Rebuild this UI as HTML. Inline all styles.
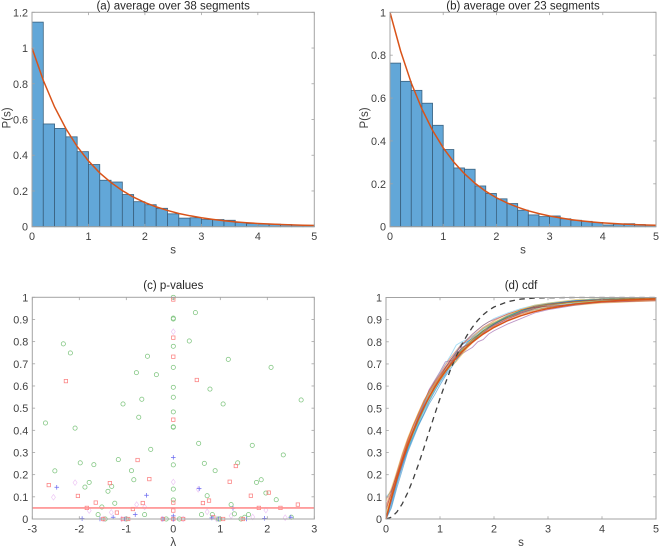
<!DOCTYPE html>
<html lang="en">
<head>
<meta charset="utf-8">
<title>Spacing distributions</title>
<style>
html,body{margin:0;padding:0;background:#fff;width:660px;height:547px;overflow:hidden}
svg{display:block}
text{font-family:"Liberation Sans",Arial,sans-serif;fill:#404040;font-size:10.8px}
text.lab{font-size:11.5px}
</style>
</head>
<body>
<svg id="fig" xmlns="http://www.w3.org/2000/svg" width="660" height="547" viewBox="0 0 660 547"></svg>
<script>
// ---------- data ----------
const histEdgeStep = 0.2;
const histA = [1.145,.575,.55,.503,.42,.348,.26,.25,.18,.14,.123,.103,.072,.048,.05,.04,.04,.036,.024,.018,.016,.014,.012,.01,.008];
const histB = [.763,.678,.636,.576,.473,.36,.274,.268,.19,.155,.13,.108,.077,.055,.047,.05,.037,.03,.025,.02,.008,.012,.014,.01,.008];
const theoryS = [0,.2,.4,.6,.8,1,1.2,1.4,1.6,1.8,2,2.2,2.4,2.6,2.8,3,3.2,3.4,3.6,3.8,4,4.2,4.4,4.6,4.8,5];
const theoryP = [1,.819,.67,.549,.449,.368,.301,.247,.202,.165,.135,.111,.091,.074,.061,.05,.041,.033,.027,.022,.018,.015,.012,.01,.008,.007];

const greenLambda = [-2.34,-2.19,-.55,-.785,-.36,-1.07,-.67,0,.47,0,0,.34,0,1.17,0,2.08,0,.78,0,2.72,1.06,-2.72,-2.09,-.735,-.48,-2.52,-1.98,-1.69,-1.17,-.89,-.84,-1.79,-1.88,-1.31,-1.39,-1.245,-1.52,-1.6,-1.45,-.61,-.15,-1,0,0,0,.54,1.68,2.34,.66,1.37,.89,0,1.87,1.77,0,.72,0,1.97,2.19,1.23,1.3,1.6,.6,.83,1.52,1.44,.13,.96,.99,2.51];
const greenP = [.79,.749,.734,.66,.651,.519,.54,1,.931,.902,.906,.803,.779,.72,.684,.684,.594,.586,.549,.537,.519,.433,.41,.459,.314,.217,.253,.245,.268,.218,.177,.165,.144,.147,.125,.071,.054,.02,0,.02,0,0,.483,.414,.416,.341,.332,.289,.251,.253,.218,.244,.177,.165,.135,.105,.086,.117,.087,.065,.023,.02,.02,.02,.008,0,0,0,0,.008];
const redLambda = [-2.285,0,0,0,.5,-2.65,-2.03,-1.35,-.76,-.51,-1.65,-1.84,-1.2,-.86,-.65,-1.49,-.96,-1.07,-.22,0,1.33,1.2,1.65,2.03,.76,.63,0,0,2.65,1.82,2.28,.85,1.06,1.48,0,.21];
const redP = [.622,.99,.818,.732,.627,.153,.104,.162,.266,.18,.074,.05,.029,.045,.072,0,0,0,0,.448,.239,.168,.105,.119,.083,.072,.074,.038,.065,.05,.05,.008,0,0,0,0];
const blueLambda = [-2.48,-1.94,-1.56,-1.28,-.81,-.57,-1.03,-.22,0,.55,1.27,.82,.96,1.56,1.94,2.5,0,0];
const blueP = [.143,.002,0,.008,.02,.107,0,0,.278,.137,.048,.005,0,0,.003,.008,.014,0];
const pinkLambda = [0,-2.55,-2.09,-1.79,-1.32,-.78,-.61,-1.1,-.24,-1.49,0,.53,.72,1.97,1.23,1.69,2.38,.92,.21,0];
const pinkP = [.845,.098,.164,.038,.03,.065,.054,0,0,0,.167,.134,.032,.04,.014,.009,.006,0,0,0];
const alphaLevel = 0.05;

const cdfS = [0,.1,.2,.3,.4,.5,.6,.7,.8,.9,1,1.1,1.2,1.3,1.4,1.5,1.6,1.7,1.8,1.9,2,2.25,2.5,2.75,3,3.5,4,4.5,5];
const cdfPoisson = [0,.095,.181,.259,.33,.393,.451,.503,.551,.593,.632,.667,.699,.727,.753,.777,.798,.817,.835,.85,.865,.895,.918,.936,.95,.97,.982,.989,.993];
const cdfWigner = [0,.008,.031,.068,.118,.178,.246,.319,.395,.471,.544,.613,.678,.735,.786,.829,.866,.897,.922,.942,.957,.981,.993,.997,.999,1,1,1,1];
const cdfSeg1 = [0,.08,.17,.25,.32,.385,.44,.495,.55,.6,.64,.68,.72,.755,.785,.80,.815,.83,.85,.865,.88,.91,.93,.945,.955,.975,.985,.992,.996];
const cdfSeg2 = [0,.1,.19,.27,.345,.405,.46,.51,.555,.595,.63,.665,.70,.725,.755,.78,.805,.825,.845,.86,.875,.905,.93,.95,.965,.98,.99,.995,.998];
const cdfSeg3 = [.03,.11,.19,.26,.33,.39,.445,.50,.55,.59,.625,.66,.695,.72,.745,.775,.80,.825,.845,.86,.87,.895,.925,.945,.955,.965,.975,.98,.985];
const cdfSeg4 = [.09,.13,.2,.27,.335,.395,.455,.52,.585,.625,.665,.71,.715,.72,.745,.76,.775,.80,.81,.835,.85,.88,.905,.93,.945,.965,.98,.985,.99];
const cdfSeg5 = [0,.085,.17,.25,.32,.38,.435,.49,.535,.585,.63,.67,.70,.735,.77,.785,.81,.83,.85,.87,.885,.91,.935,.95,.96,.98,.99,.995,1];
const cdfSeg6 = [.1,.125,.175,.24,.31,.37,.43,.485,.54,.58,.615,.65,.705,.75,.795,.80,.815,.835,.855,.87,.885,.92,.94,.955,.97,.985,.992,.995,.998];
const cdfSeg7 = [0,.09,.185,.265,.34,.40,.465,.515,.565,.605,.64,.68,.71,.74,.76,.79,.81,.83,.85,.865,.88,.91,.935,.955,.97,.985,.99,.992,.995];
const cdfSeg8 = [0,.06,.155,.235,.31,.37,.425,.475,.53,.575,.62,.655,.69,.73,.765,.795,.82,.84,.86,.875,.885,.915,.94,.96,.97,.985,.995,.998,1];
const cdfSeg9 = [.05,.115,.195,.275,.35,.415,.47,.525,.57,.61,.645,.685,.715,.745,.77,.785,.80,.82,.84,.855,.87,.905,.925,.94,.955,.972,.98,.985,.988];
const cdfSeg10 = [.02,.10,.18,.26,.335,.395,.45,.505,.56,.60,.64,.675,.71,.735,.76,.79,.815,.84,.86,.875,.89,.915,.945,.96,.968,.978,.983,.986,.99];
const cdfSeg11 = [0,.075,.165,.245,.325,.39,.45,.50,.55,.595,.635,.67,.705,.735,.775,.785,.80,.815,.84,.86,.875,.90,.93,.95,.965,.982,.99,.994,.997];
const cdfSeg12 = [.01,.09,.175,.255,.325,.39,.45,.505,.545,.59,.635,.67,.695,.73,.76,.78,.805,.83,.85,.865,.88,.91,.94,.955,.967,.98,.988,.993,.996];
const cdfSeg13 = [0,.07,.16,.25,.33,.40,.46,.515,.57,.62,.66,.70,.74,.785,.80,.81,.83,.855,.875,.89,.905,.93,.95,.965,.975,.988,.994,.997,1];
const cdfSeg14 = [.04,.12,.21,.29,.36,.42,.475,.53,.58,.615,.65,.685,.72,.75,.785,.81,.835,.855,.875,.89,.90,.925,.945,.955,.96,.97,.978,.982,.985];
const cdfSeg15 = [0,.05,.14,.22,.30,.36,.42,.47,.52,.56,.605,.645,.68,.715,.75,.775,.80,.825,.845,.865,.88,.915,.94,.96,.972,.985,.992,.996,.998];
const cdfSeg16 = [.06,.13,.20,.28,.355,.42,.48,.535,.575,.62,.655,.695,.73,.76,.79,.805,.825,.845,.865,.88,.895,.925,.945,.96,.97,.982,.99,.994,.997];
const cdfSeg17 = [.08,.14,.215,.295,.365,.425,.48,.53,.575,.61,.64,.665,.69,.71,.74,.77,.795,.82,.845,.87,.885,.92,.945,.965,.975,.99,.994,.996,.997];
const cdfSegments = [cdfSeg1,cdfSeg2,cdfSeg3,cdfSeg4,cdfSeg5,cdfSeg6,cdfSeg7,cdfSeg8,cdfSeg9,cdfSeg10,cdfSeg11,cdfSeg12,cdfSeg13,cdfSeg14,cdfSeg15,cdfSeg16,cdfSeg17];
const segmentColors = ['#0072bd','#d95319','#edb120','#7e2f8e','#77ac30','#4dbeee','#a2142f'];

const xTicks05 = [0,1,2,3,4,5];
const yTicksA = [0,.2,.4,.6,.8,1,1.2];
const yTicksB = [0,.2,.4,.6,.8,1];
const xTicksC = [-3,-2,-1,0,1,2,3];
const yTicks01 = [0,.1,.2,.3,.4,.5,.6,.7,.8,.9,1];

// ---------- drawing helpers ----------
const NS = 'http://www.w3.org/2000/svg';
const fig = document.getElementById('fig');
function mk(tag, attrs, parent, txt){
  const e = document.createElementNS(NS, tag);
  for (const k in attrs) e.setAttribute(k, attrs[k]);
  if (txt !== undefined) e.textContent = txt;
  (parent || fig).appendChild(e);
  return e;
}
function scale(d0, d1, r0, r1){ return v => r0 + (v - d0) * (r1 - r0) / (d1 - d0); }

function axes(o){
  const g = mk('g', {});
  
  
  const X = scale(o.xd[0], o.xd[1], o.l, o.r), Y = scale(o.yd[0], o.yd[1], o.b, o.t);
  const axisCol = '#a3a3a3';
  return {g, X, Y, finish(){
    const box = mk('rect', {x:o.l, y:o.t, width:o.r-o.l, height:o.b-o.t, fill:'none', stroke:axisCol, 'stroke-width':1}, g);
    
    
    o.xt.forEach(v => {
      const x = X(v);
      const t1 = mk('line', {x1:x, x2:x, y1:o.b, y2:o.b-2.8, stroke:axisCol, 'stroke-width':.8}, g);
      
      
      const t2 = mk('line', {x1:x, x2:x, y1:o.t, y2:o.t+2.8, stroke:axisCol, 'stroke-width':.8}, g);
      
      
      const lab = mk('text', {x:x, y:o.b+13.5, 'text-anchor':'middle'}, g, String(v));
      
      
    });
    o.yt.forEach(v => {
      const y = Y(v);
      const t1 = mk('line', {x1:o.l, x2:o.l+2.8, y1:y, y2:y, stroke:axisCol, 'stroke-width':.8}, g);
      
      
      const t2 = mk('line', {x1:o.r, x2:o.r-2.8, y1:y, y2:y, stroke:axisCol, 'stroke-width':.8}, g);
      
      
      const lab = mk('text', {x:o.l-4, y:y+4, 'text-anchor':'end'}, g, String(v));
      
      
    });
    const cx = (o.l + o.r) / 2;
    const title = mk('text', {x:cx, y:o.titleY, 'text-anchor':'middle', class:'lab', style:'fill:#262626'}, g, o.title);
    
    
    const xl = mk('text', {x:cx, y:o.b+27, 'text-anchor':'middle', class:'lab'}, g, o.xlabel);
    
    
    if (o.ylabel) {
      const yc = (o.t + o.b) / 2 - 1.5;
      const yl = mk('text', {x:0, y:0, 'text-anchor':'middle', class:'lab', transform:'translate(' + o.ylabelX + ' ' + yc + ') rotate(-90)'}, g, o.ylabel);
      
      
    }
  }};
}
function pathOf(xs, ys, X, Y){
  return xs.map((v, i) => (i ? 'L' : 'M') + X(v).toFixed(2) + ' ' + Y(ys[i]).toFixed(2)).join('');
}
function histPanel(o, vals){
  const a = axes(o);
  vals.forEach((v, i) => {
    const x0 = a.X(i * histEdgeStep), x1 = a.X((i + 1) * histEdgeStep), y = a.Y(v);
    const b = mk('rect', {x:x0, y:y, width:x1-x0, height:a.Y(0)-y, fill:'#62a7d8', stroke:'#3a617f', 'stroke-width':.8}, a.g);
    
    
  });
  const l = mk('path', {d:pathOf(theoryS, theoryP, a.X, a.Y), fill:'none', stroke:'#d95319', 'stroke-width':1.5}, a.g);
  
  
  a.finish();
}

// ---------- panels (a), (b) ----------
histPanel({name:'panel-a', l:32, r:314.3, t:12.3, b:226.7, xd:[0,5], yd:[0,1.2], xt:xTicks05, yt:yTicksA,
  title:'(a) average over 38 segments', titleY:9.5, xlabel:'s', ylabel:'P(s)', ylabelX:10.5}, histA);
histPanel({name:'panel-b', l:390, r:656, t:12.3, b:226.7, xd:[0,5], yd:[0,1], xt:xTicks05, yt:yTicksB,
  title:'(b) average over 23 segments', titleY:9.5, xlabel:'s', ylabel:'P(s)', ylabelX:368}, histB);

// ---------- panel (c) ----------
(function(){
  const a = axes({name:'panel-c', l:32.3, r:314.3, t:297.3, b:519, xd:[-3,3], yd:[0,1], xt:xTicksC, yt:yTicks01,
    title:'(c) p-values', titleY:289, xlabel:'λ', ylabelX:0});
  pinkLambda.forEach((v, i) => {
    const x = a.X(v), y = a.Y(pinkP[i]);
    const m = mk('path', {d:'M'+x+' '+(y-2.8)+'L'+(x+2)+' '+y+'L'+x+' '+(y+2.8)+'L'+(x-2)+' '+y+'Z', fill:'none', stroke:'#eec8f5', 'stroke-width':.7}, a.g);
    
    
  });
  greenLambda.forEach((v, i) => {
    const m = mk('circle', {cx:a.X(v), cy:a.Y(greenP[i]), r:2.1, fill:'none', stroke:'#7dc47d', 'stroke-width':.75}, a.g);
    
    
  });
  redLambda.forEach((v, i) => {
    const m = mk('rect', {x:a.X(v)-1.7, y:a.Y(redP[i])-1.7, width:3.4, height:3.4, fill:'none', stroke:'#fb8080', 'stroke-width':.75}, a.g);
    
    
  });
  blueLambda.forEach((v, i) => {
    const x = a.X(v), y = a.Y(blueP[i]);
    const m = mk('path', {d:'M'+(x-2.3)+' '+y+'H'+(x+2.3)+'M'+x+' '+(y-2.3)+'V'+(y+2.3), fill:'none', stroke:'#6c6cf0', 'stroke-width':.75}, a.g);
    
    
  });
  const sig = mk('line', {x1:a.X(-3), x2:a.X(3), y1:a.Y(alphaLevel), y2:a.Y(alphaLevel), stroke:'#ff8f8f', 'stroke-width':1.6}, a.g);
  
  
  a.finish();
})();

// ---------- panel (d) ----------
(function(){
  const a = axes({name:'panel-d', l:386, r:656, t:297.5, b:519, xd:[0,5], yd:[0,1], xt:xTicks05, yt:yTicks01,
    title:'(d) cdf', titleY:289, xlabel:'s', ylabelX:0});
  cdfSegments.forEach((vals, i) => {
    const l = mk('path', {d:pathOf(cdfS, vals, a.X, a.Y), fill:'none', stroke:segmentColors[i % segmentColors.length], 'stroke-width':.9, 'stroke-opacity':.5}, a.g);
    
    
  });
  const w = mk('path', {d:pathOf(cdfS, cdfWigner, a.X, a.Y), fill:'none', stroke:'#404040', 'stroke-width':1.3, 'stroke-dasharray':'5.5 4.5'}, a.g);
  
  
  const p = mk('path', {d:pathOf(cdfS, cdfPoisson, a.X, a.Y), fill:'none', stroke:'#d95319', 'stroke-width':1.5}, a.g);
  
  
  a.finish();
})();
</script>
</body>
</html>
